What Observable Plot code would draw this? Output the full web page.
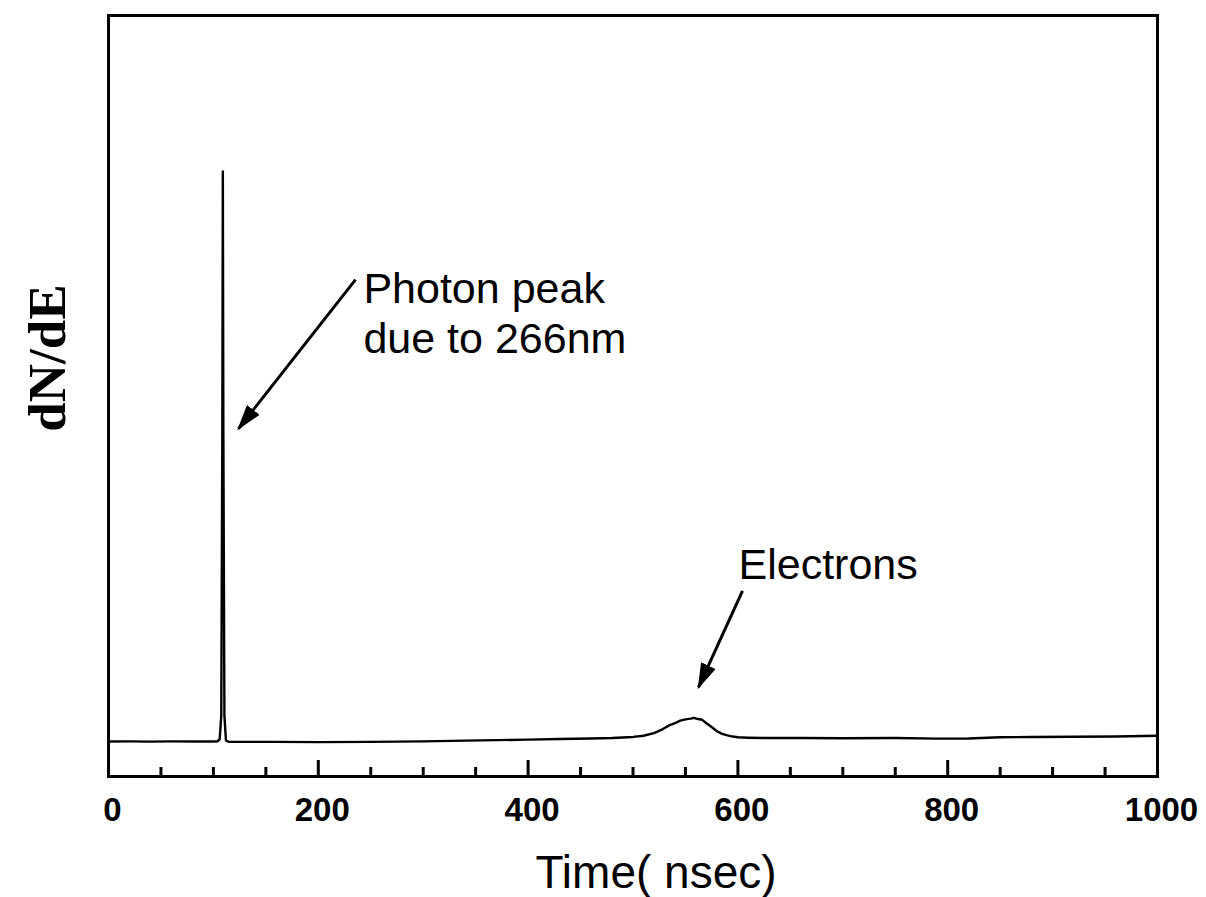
<!DOCTYPE html>
<html><head><meta charset="utf-8">
<script src="https://cdn.jsdelivr.net/npm/d3@7"></script>
<script src="https://cdn.jsdelivr.net/npm/@observablehq/plot@0.6"></script>
<style>html,body{margin:0;padding:0;background:#fff;} svg{display:block;}</style>
</head><body><div id="chart"></div>
<script>
// Time axis (nsec) and detector signal (arbitrary units, dN/dE)
const time = [0, 20, 40, 60, 80, 100, 104, 106, 107.5, 108.5, 109, 109.5, 110.5, 112, 115, 130, 160, 200, 250, 300, 340, 370, 400, 430, 460, 480, 500, 510, 520, 528, 535, 540, 545, 550, 555, 558, 562, 566, 570, 575, 580, 585, 590, 595, 600, 610, 630, 660, 700, 750, 790, 820, 850, 880, 920, 960, 1000];
const signal = [4.60, 4.62, 4.58, 4.62, 4.60, 4.60, 4.62, 4.9, 8, 45, 79.5, 45, 8, 4.7, 4.55, 4.55, 4.55, 4.52, 4.55, 4.62, 4.72, 4.78, 4.85, 4.92, 5.0, 5.05, 5.2, 5.35, 5.7, 6.2, 6.75, 7.0, 7.35, 7.5, 7.6, 7.7, 7.55, 7.45, 7.0, 6.5, 5.95, 5.6, 5.4, 5.25, 5.15, 5.1, 5.05, 5.05, 5.02, 5.05, 4.98, 5.0, 5.15, 5.2, 5.22, 5.25, 5.35];
const majorTicks = [0, 200, 400, 600, 800, 1000];
const minorTicks = [50, 100, 150, 250, 300, 350, 450, 500, 550, 650, 700, 750, 850, 900, 950];
const xLabel = "Time( nsec)";
const yLabel = "dN/dE";
const noteText = ["Photon peak\ndue to 266nm", "Electrons"];
const noteX = [243, 600.6];
const noteY = [55.6, 26.0];
const arrowFromX = [235.5, 604.4];
const arrowFromY = [65.3, 24.4];
const arrowToX = [123.9, 562.4];
const arrowToY = [45.7, 11.7];

const series = time.map((t, i) => ({t, v: signal[i]}));
const notes = noteText.map((text, i) => ({text, x: noteX[i], y: noteY[i]}));
const arrows = arrowFromX.map((x1, i) => ({x1, y1: arrowFromY[i], x2: arrowToX[i], y2: arrowToY[i]}));

const W = 1206, H = 897;
const mL = 108, mR = 49, mT = 15, mB = 121;
const innerH = H - mT - mB;
const sans = "'Liberation Sans', Arial, Helvetica, sans-serif";
const serif = "'Liberation Serif', 'Times New Roman', serif";

const filledHead = (color) => {
  const m = d3.create("svg:marker")
    .attr("viewBox", "0 -8 26 16")
    .attr("markerUnits", "userSpaceOnUse")
    .attr("markerWidth", 26)
    .attr("markerHeight", 16)
    .attr("refX", 24)
    .attr("refY", 0)
    .attr("orient", "auto");
  m.append("path").attr("d", "M0,-8L26,0L0,8Z").attr("fill", color).attr("stroke", "none");
  return m.node();
};

function build(marker) {
  return Plot.plot({
    width: W, height: H,
    marginLeft: mL, marginRight: mR, marginTop: mT, marginBottom: mB,
    style: {background: "#fff", color: "#000"},
    x: {domain: [0, 1000], label: null},
    y: {domain: [0, 100], axis: null},
    marks: [
      Plot.tickX(minorTicks, {x: d => d, stroke: "#000", strokeWidth: 3, insetTop: innerH - 9}),
      Plot.tickX(majorTicks, {x: d => d, stroke: "#000", strokeWidth: 3, insetTop: innerH - 16}),
      Plot.axisX({ticks: majorTicks, tickSize: 0, tickPadding: 21, fontSize: 33, fontWeight: "bold", fontFamily: sans, dx: 4, tickFormat: d => String(d), label: null}),
      Plot.line(series, {x: "t", y: "v", stroke: "#000", strokeWidth: 2.4, strokeLinejoin: "round"}),
      Plot.link(arrows, {x1: "x1", y1: "y1", x2: "x2", y2: "y2", stroke: "#000", strokeWidth: 3, markerEnd: marker}),
      Plot.text(notes, {x: "x", y: "y", text: "text", textAnchor: "start", lineAnchor: "bottom", lineHeight: 1.18, fontSize: 43, fontFamily: sans, fill: "#000"}),
      Plot.text([xLabel], {frameAnchor: "bottom", text: d => d, textAnchor: "middle", dx: 23, dy: 111, lineAnchor: "bottom", fontSize: 46, fontFamily: sans, fill: "#000"}),
      Plot.text([yLabel], {frameAnchor: "left", text: d => d, textAnchor: "middle", rotate: -90, dx: -44, dy: -38, lineAnchor: "bottom", fontSize: 53, fontWeight: "bold", fontFamily: serif, fill: "#000"}),
      Plot.frame({stroke: "#000", strokeWidth: 3})
    ]
  });
}

let chart;
try { chart = build(filledHead); } catch (e) { chart = build("arrow"); }
document.getElementById("chart").append(chart);
</script>
</body></html>
